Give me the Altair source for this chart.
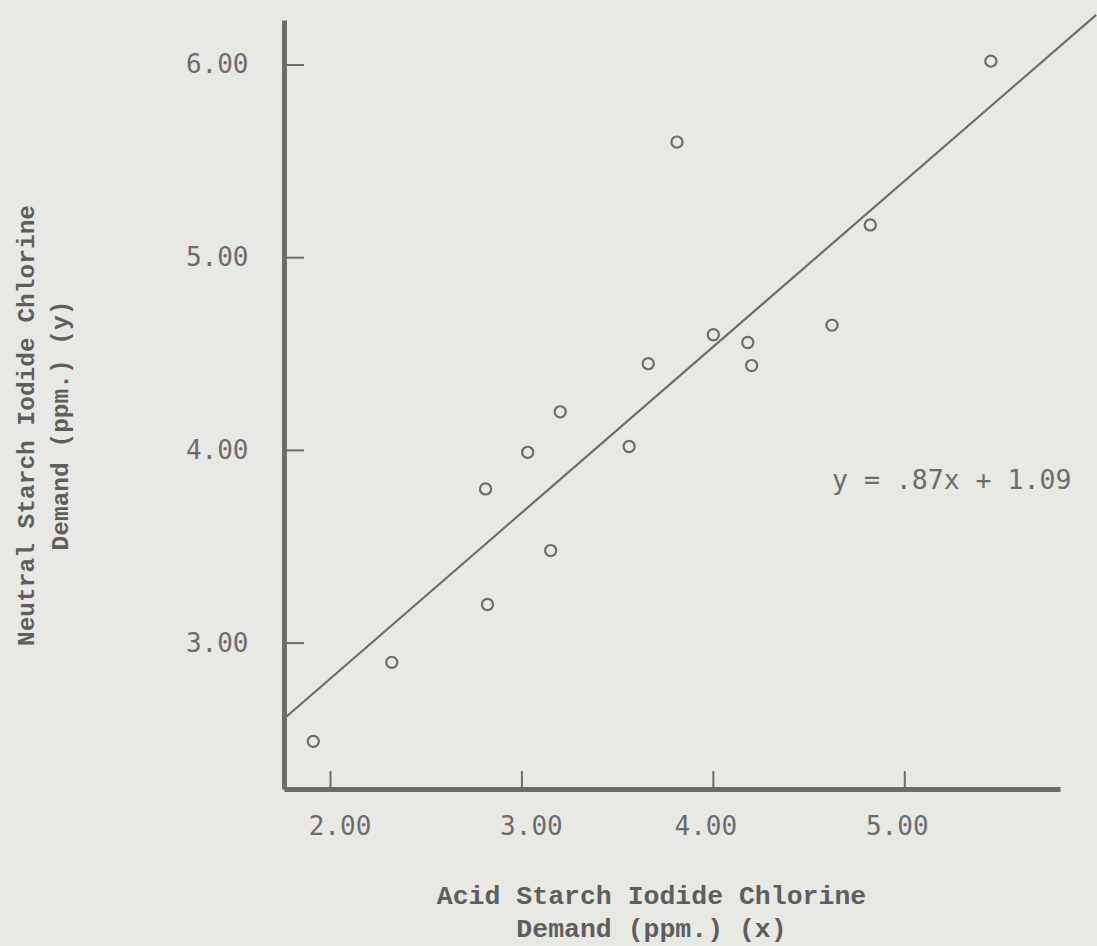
import altair as alt
import pandas as pd

# --- data ---
acid_x = [1.91, 2.32, 2.82, 2.81, 3.03, 3.15, 3.20, 3.56, 3.66, 3.81, 4.00, 4.18, 4.20, 4.62, 4.82, 5.45]
neutral_y = [2.49, 2.90, 3.20, 3.80, 3.99, 3.48, 4.20, 4.02, 4.45, 5.60, 4.60, 4.56, 4.44, 4.65, 5.17, 6.02]

fit_x = [1.76, 6.00]
fit_y = [2.61, 6.26]

x_ticks = [2, 3, 4, 5]
y_ticks = [3, 4, 5, 6]

equation_text = ["y = .87x + 1.09"]
equation_x = [4.62]
equation_y = [3.80]

x_title = ["Acid Starch Iodide Chlorine", "Demand (ppm.) (x)"]
y_title = ["Neutral Starch Iodide Chlorine", "Demand (ppm.) (y)"]

# --- tables ---
pts = pd.DataFrame({"x": acid_x, "y": neutral_y})
fit = pd.DataFrame({"x": fit_x, "y": fit_y})
xt = pd.DataFrame({"x": x_ticks})
yt = pd.DataFrame({"y": y_ticks})
eq = pd.DataFrame({"x": equation_x, "y": equation_y, "t": equation_text})

W, H = 776, 769
INK = "#6c6c6c"
TITLE_INK = "#5e5e5e"

xs = alt.Scale(domain=[1.757, 5.811], nice=False, zero=False)
ys = alt.Scale(domain=[2.2428, 6.2335], nice=False, zero=False)

x_axis = alt.Axis(
    values=x_ticks, format=".2f", title=x_title,
    titleX=367, titleY=114, titleAlign="center", titleBaseline="alphabetic",
    titleAngle=0, titleFontSize=26.5, titleLineHeight=33,
    labelPadding=24, labelFontSize=26,
    labelOffset={"condition": {"test": "datum.value < 3.5", "value": 9}, "value": -8},
)
y_axis = alt.Axis(
    values=y_ticks, format=".2f", title=y_title,
    titleX=-251, titleY=405, titleAlign="center", titleBaseline="alphabetic",
    titleAngle=270, titleFontSize=24.5, titleLineHeight=34,
    labelPadding=36, labelFontSize=26,
)

points = alt.Chart(pts).mark_point(
    shape="circle", filled=False, size=125, strokeWidth=2.2, color=INK, opacity=1
).encode(
    x=alt.X("x:Q", scale=xs, axis=x_axis),
    y=alt.Y("y:Q", scale=ys, axis=y_axis),
)

line = alt.Chart(fit).mark_line(color=INK, strokeWidth=2.2, clip=False).encode(
    x=alt.X("x:Q", scale=xs, axis=x_axis),
    y=alt.Y("y:Q", scale=ys, axis=y_axis),
)

xtick_marks = alt.Chart(xt).mark_rule(color=INK, strokeWidth=2).encode(
    x=alt.X("x:Q", scale=xs, axis=x_axis),
    y=alt.value(H),
    y2=alt.value(H - 18),
)

ytick_marks = alt.Chart(yt).mark_rule(color=INK, strokeWidth=2).encode(
    y=alt.Y("y:Q", scale=ys, axis=y_axis),
    x=alt.value(0),
    x2=alt.value(20),
)

eq_text = alt.Chart(eq).mark_text(
    align="left", baseline="alphabetic", font="DejaVu Sans Mono",
    fontSize=26.5, color=INK, clip=False
).encode(
    x=alt.X("x:Q", scale=xs, axis=x_axis),
    y=alt.Y("y:Q", scale=ys, axis=y_axis),
    text="t:N",
)

chart = alt.layer(points, line, xtick_marks, ytick_marks, eq_text).properties(
    width=W, height=H,
    autosize=alt.AutoSizeParams(type="none"),
    padding={"left": 284, "top": 20, "right": 37, "bottom": 157},
    background="#e8e8e5",
).configure_view(stroke=None).configure_axis(
    grid=False,
    ticks=False,
    tickSize=0,
    domain=True,
    domainColor=INK,
    domainWidth=5,
    labelFont="DejaVu Sans Mono",
    labelColor=INK,
    titleFont="Liberation Mono",
    titleFontWeight="bold",
    titleColor=TITLE_INK,
)

chart.save("out.html", embed_options={"renderer": "svg", "actions": False})
